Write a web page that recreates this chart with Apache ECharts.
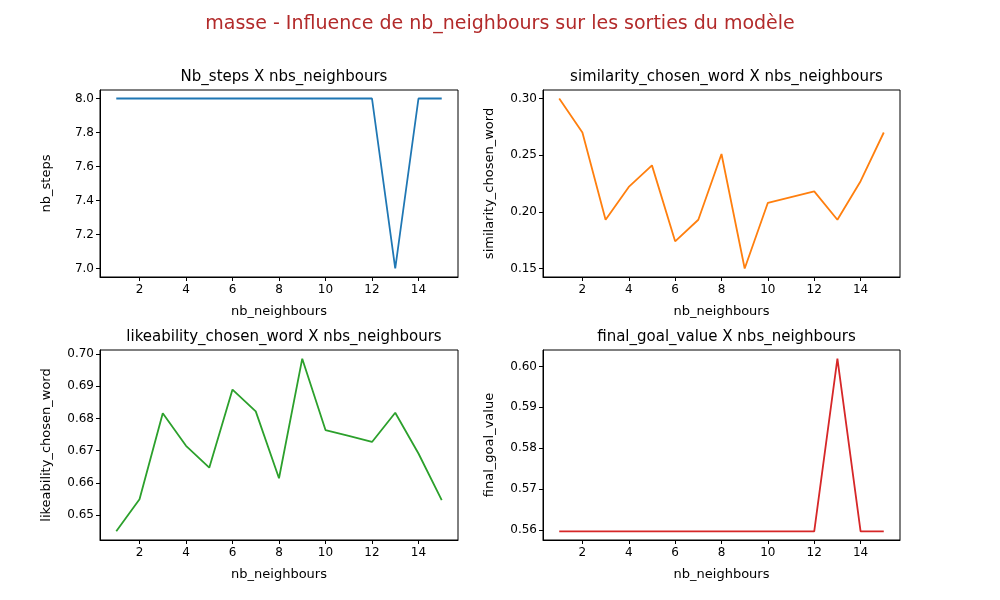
<!DOCTYPE html>
<html><head><meta charset="utf-8">
<script src="https://cdn.jsdelivr.net/npm/echarts@6/dist/echarts.min.js"></script>
<style>html,body{margin:0;padding:0;background:#fff}#main{width:1000px;height:600px}</style>
</head><body><div id="main"></div>
<script>
var nbNeighbours = [1,2,3,4,5,6,7,8,9,10,11,12,13,14,15];
var nbSteps = [8,8,8,8,8,8,8,8,8,8,8,8,7,8,8];
var similarity = [0.300,0.270,0.193,0.222,0.241,0.174,0.193,0.251,0.150,0.208,0.213,0.218,0.193,0.227,0.270];
var likeability = [0.6449,0.6549,0.6816,0.6715,0.6647,0.6890,0.6822,0.6614,0.6986,0.6764,0.6746,0.6727,0.6818,0.6691,0.6546];
var finalGoal = [0.5597,0.5597,0.5597,0.5597,0.5597,0.5597,0.5597,0.5597,0.5597,0.5597,0.5597,0.5597,0.6019,0.5597,0.5597];
var xTicks = [2,4,6,8,10,12,14];

var font = 'DejaVu Sans';
var panels = [
  {title:'Nb_steps X nbs_neighbours', yName:'nb_steps', data:nbSteps, color:'#1f77b4',
   min:6.95, max:8.05, ticks:[7.0,7.2,7.4,7.6,7.8,8.0], dec:1, grid:{left:100,right:542,top:90,bottom:323}},
  {title:'similarity_chosen_word X nbs_neighbours', yName:'similarity_chosen_word', data:similarity, color:'#ff7f0e',
   min:0.1425, max:0.3075, ticks:[0.15,0.20,0.25,0.30], dec:2, grid:{left:543,right:100,top:90,bottom:323}},
  {title:'likeability_chosen_word X nbs_neighbours', yName:'likeability_chosen_word', data:likeability, color:'#2ca02c',
   min:0.6422, max:0.7013, ticks:[0.65,0.66,0.67,0.68,0.69,0.70], dec:2, grid:{left:100,right:542,top:350,bottom:60}},
  {title:'final_goal_value X nbs_neighbours', yName:'final_goal_value', data:finalGoal, color:'#d62728',
   min:0.5576, max:0.6040, ticks:[0.56,0.57,0.58,0.59,0.60], dec:2, grid:{left:543,right:100,top:350,bottom:60}}
];

var option = {
  animation:false,
  textStyle:{fontFamily:font},
  title:[{text:'masse - Influence de nb_neighbours sur les sorties du modèle', left:'center', top:10,
          textStyle:{fontFamily:font, fontSize:19, fontWeight:'normal', color:'#b22a2a'}}],
  grid:[], xAxis:[], yAxis:[], series:[]
};
panels.forEach(function(p, i){
  var g = p.grid;
  option.grid.push({left:g.left, right:g.right, top:g.top, bottom:g.bottom, containLabel:false,
    show:true, borderColor:'#000', borderWidth:1, backgroundColor:'transparent'});
  var cx = g.left + (1000 - g.left - g.right)/2;
  option.title.push({text:p.title, left:cx, top:g.top - 25, textAlign:'center',
    textStyle:{fontFamily:font, fontSize:15, fontWeight:'normal', color:'#000'}});
  option.xAxis.push({type:'value', gridIndex:i, min:0.3, max:15.7,
    name:'nb_neighbours', nameLocation:'middle', nameGap:28, nameTextStyle:{fontFamily:font, fontSize:13, color:'#000'},
    axisLine:{show:true, onZero:false, lineStyle:{color:'#000'}},
    axisTick:{show:true, length:4, customValues:xTicks, lineStyle:{color:'#000'}},
    axisLabel:{customValues:xTicks, fontFamily:font, fontSize:12, color:'#000', margin:7},
    splitLine:{show:false}});
  option.yAxis.push({type:'value', gridIndex:i, min:p.min, max:p.max,
    name:p.yName, nameLocation:'middle', nameGap:47, nameTextStyle:{fontFamily:font, fontSize:13, color:'#000'},
    axisLine:{show:true, onZero:false, lineStyle:{color:'#000'}},
    axisTick:{show:true, length:4, customValues:p.ticks, lineStyle:{color:'#000'}},
    axisLabel:{customValues:p.ticks, fontFamily:font, fontSize:12, color:'#000', margin:6,
      formatter:function(v){return v.toFixed(p.dec);}},
    splitLine:{show:false}});
  option.series.push({type:'line', xAxisIndex:i, yAxisIndex:i, showSymbol:false,
    lineStyle:{color:p.color, width:1.8}, itemStyle:{color:p.color},
    data:nbNeighbours.map(function(x, k){return [x, p.data[k]];})});
});
echarts.init(document.getElementById('main')).setOption(option);
</script>
</body></html>
